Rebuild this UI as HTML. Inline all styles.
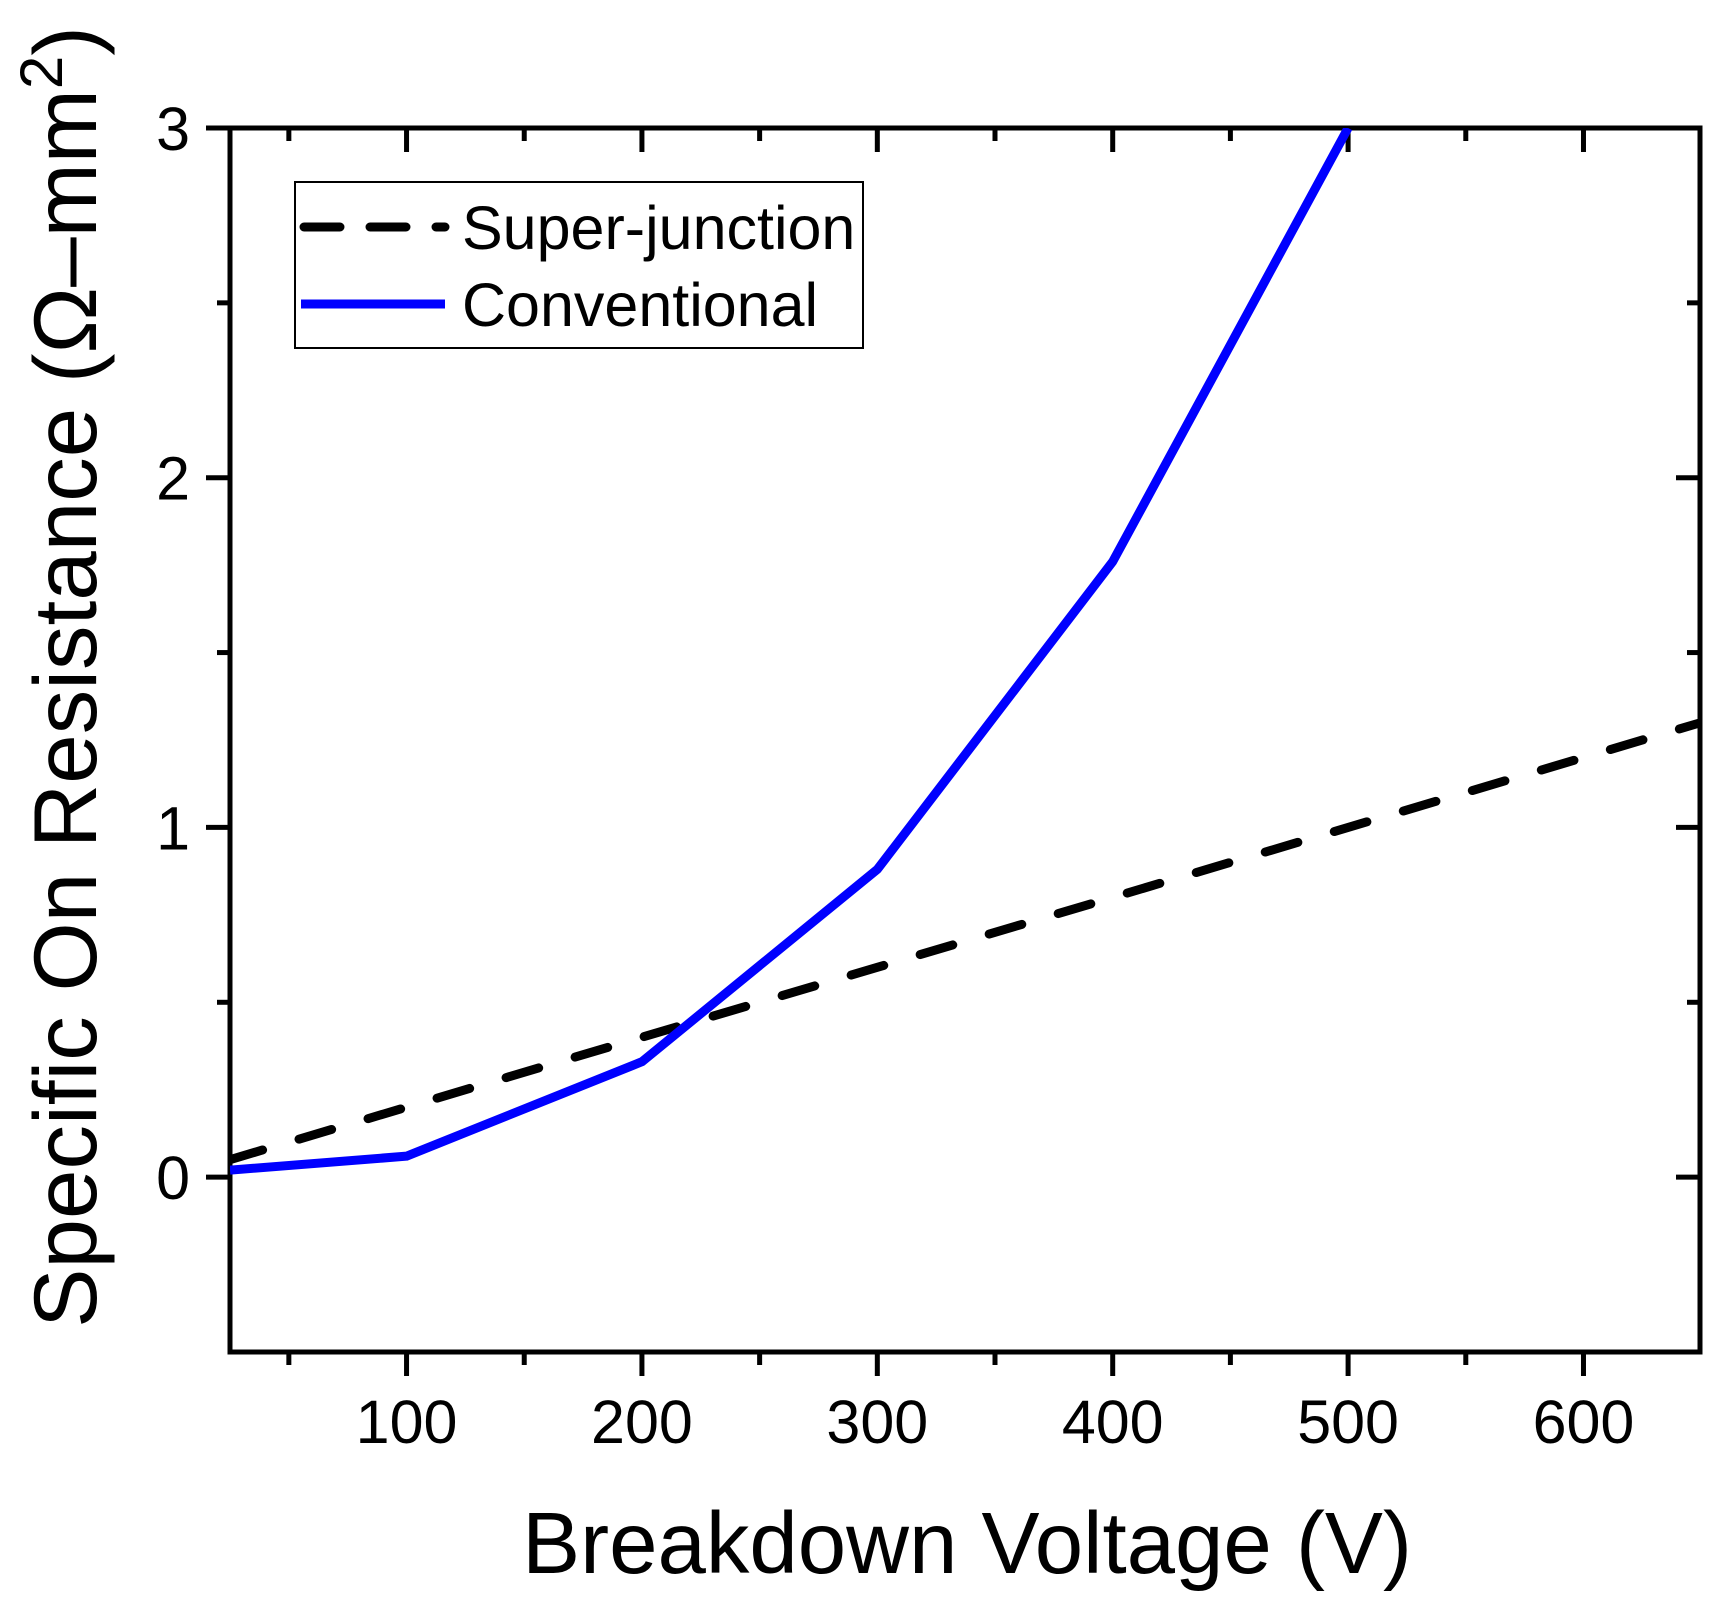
<!DOCTYPE html>
<html><head><meta charset="utf-8"><style>
html,body{margin:0;padding:0;background:#fff}
svg{display:block}
text{font-family:"Liberation Sans",Arial,sans-serif;fill:#000}
</style></head><body>
<svg id="chart" width="1734" height="1608" viewBox="0 0 1734 1608">
<rect x="0" y="0" width="1734" height="1608" fill="#fff"/>
<g id="axes"></g>
<g id="series"></g>
<text x="967" y="1573" text-anchor="middle" font-size="87">Breakdown Voltage (V)</text>
<text transform="translate(96,677) rotate(-90)" text-anchor="middle" font-size="89">Specific On Resistance (Ω–mm<tspan font-size="60" dy="-34">2</tspan><tspan dy="34">)</tspan></text>
<g>
<rect x="295" y="182" width="568" height="166" fill="#fff" stroke="#000" stroke-width="2"/>
<line x1="304" y1="227" x2="445" y2="227" stroke="#000" stroke-width="9" stroke-dasharray="36,30" stroke-linecap="round"/>
<text x="462" y="249" font-size="61">Super-junction</text>
<line x1="301" y1="304" x2="445" y2="304" stroke="#0000ff" stroke-width="9"/>
<text x="462" y="326" font-size="61">Conventional</text>
</g>
</svg>
<script>
const xTicks = [100, 200, 300, 400, 500, 600];
const xMinor = [50, 150, 250, 350, 450, 550];
const yTicks = [0, 1, 2, 3];
const yMinor = [0.5, 1.5, 2.5];
const sjV = [25, 100, 200, 300, 400, 500, 650];
const sjR = [0.05, 0.2, 0.4, 0.6, 0.8, 1.0, 1.3];
const convV = [25, 100, 200, 300, 400, 500];
const convR = [0.02, 0.06, 0.33, 0.88, 1.76, 3.0];

const L = 230, R = 1700, T = 128, B = 1352;
const xMin = 25, xMax = 649.5, yMin = -0.5, yMax = 3;
const sx = v => L + (v - xMin) / (xMax - xMin) * (R - L);
const sy = v => B - (v - yMin) / (yMax - yMin) * (B - T);
const NS = 'http://www.w3.org/2000/svg';
const axes = document.getElementById('axes');
const series = document.getElementById('series');
function line(x1, y1, x2, y2, name) {
  const l = document.createElementNS(NS, 'line');
  l.setAttribute('x1', x1); l.setAttribute('y1', y1);
  l.setAttribute('x2', x2); l.setAttribute('y2', y2);
  l.setAttribute('stroke', '#000'); l.setAttribute('stroke-width', 5);
  
  
  axes.appendChild(l);
}
function label(x, y, txt, anchor, name) {
  const t = document.createElementNS(NS, 'text');
  t.setAttribute('x', x); t.setAttribute('y', y);
  t.setAttribute('text-anchor', anchor); t.setAttribute('font-size', 61);
  t.textContent = txt;
  
  
  axes.appendChild(t);
}
const fr = document.createElementNS(NS, 'rect');
fr.setAttribute('x', L); fr.setAttribute('y', T);
fr.setAttribute('width', R - L); fr.setAttribute('height', B - T);
fr.setAttribute('fill', 'none'); fr.setAttribute('stroke', '#000'); fr.setAttribute('stroke-width', 5);


axes.appendChild(fr);
xTicks.forEach(v => {
  const x = sx(v);
  line(x, B, x, B + 24, 'x-tick');
  line(x, T, x, T + 24, 'x-tick-top');
  label(x, 1443, String(v), 'middle', 'x-tick-label');
});
xMinor.forEach(v => {
  const x = sx(v);
  line(x, B, x, B + 13, 'x-minor-tick');
  line(x, T, x, T + 13, 'x-minor-tick-top');
});
yTicks.forEach(v => {
  const y = sy(v);
  line(L - 24, y, L, y, 'y-tick');
  line(R - 24, y, R, y, 'y-tick-right');
  label(190, y + 22, String(v), 'end', 'y-tick-label');
});
yMinor.forEach(v => {
  const y = sy(v);
  line(L - 13, y, L, y, 'y-minor-tick');
  line(R - 13, y, R, y, 'y-minor-tick-right');
});
function path(xs, ys, color, dash, name) {
  const p = document.createElementNS(NS, 'path');
  p.setAttribute('d', xs.map((v, i) => (i ? 'L' : 'M') + sx(v) + ',' + sy(ys[i])).join(' '));
  p.setAttribute('fill', 'none'); p.setAttribute('stroke', color);
  p.setAttribute('stroke-width', 9); p.setAttribute('stroke-linejoin', 'round');
  if (dash) { p.setAttribute('stroke-dasharray', dash); p.setAttribute('stroke-linecap', 'round'); }
  
  
  series.appendChild(p);
}
const cp = document.createElementNS(NS, 'clipPath');
cp.setAttribute('id', 'clip');
const cr = document.createElementNS(NS, 'rect');
cr.setAttribute('x', L); cr.setAttribute('y', T); cr.setAttribute('width', R - L); cr.setAttribute('height', B - T);
cp.appendChild(cr);
document.getElementById('chart').appendChild(cp);
series.setAttribute('clip-path', 'url(#clip)');
path(sjV, sjR, '#000', '34,38', 'superjunction-line');
path(convV, convR, '#0000ff', null, 'conventional-line');
</script>
</body></html>
